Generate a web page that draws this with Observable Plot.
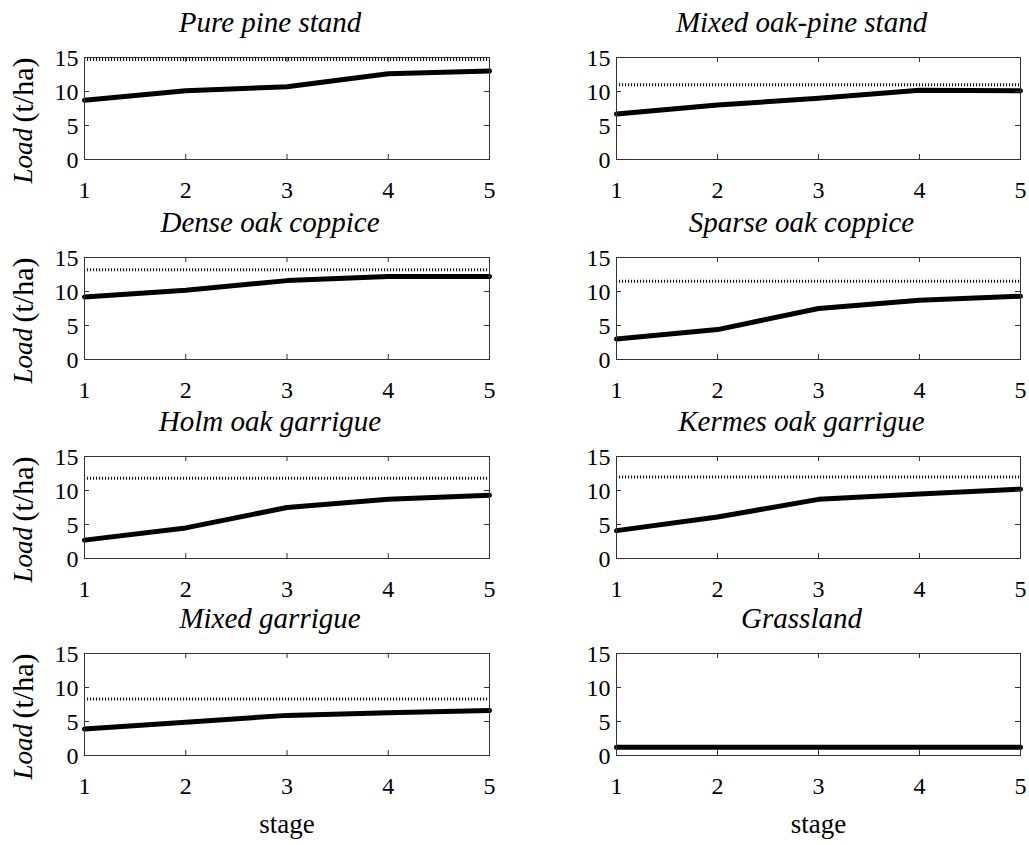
<!DOCTYPE html>
<html>
<head>
<meta charset="utf-8">
<script src="https://cdn.jsdelivr.net/npm/d3@7"></script>
<script src="https://cdn.jsdelivr.net/npm/@observablehq/plot@0.6"></script>
<style>
  html, body { margin: 0; padding: 0; background: #fff; }
  #chart { position: relative; width: 1029px; height: 845px; overflow: hidden; }
  #chart svg { position: absolute; overflow: visible; }
</style>
</head>
<body>
<div id="chart"></div>
<script>
// ---- data ----
const stages = [1, 2, 3, 4, 5];
const stageTicks = [1, 2, 3, 4, 5];
const loadTicks = [0, 5, 10, 15];

const panelTitles = [
  "Pure pine stand", "Mixed oak-pine stand",
  "Dense oak coppice", "Sparse oak coppice",
  "Holm oak garrigue", "Kermes oak garrigue",
  "Mixed garrigue", "Grassland"
];

const purePine      = [8.7, 10.1, 10.7, 12.6, 13.0];
const mixedOakPine  = [6.7, 8.0, 9.0, 10.2, 10.1];
const denseOak      = [9.2, 10.2, 11.6, 12.2, 12.2];
const sparseOak     = [3.0, 4.4, 7.5, 8.7, 9.3];
const holmOak       = [2.7, 4.5, 7.5, 8.7, 9.3];
const kermesOak     = [4.1, 6.1, 8.7, 9.5, 10.2];
const mixedGarrigue = [3.9, 4.9, 5.9, 6.3, 6.6];
const grassland     = [1.2, 1.2, 1.2, 1.2, 1.2];

// dotted reference level per panel (null = none)
const refLevels = [14.7, 11.0, 13.2, 11.5, 11.8, 12.0, 8.3, null];

const seriesList = [purePine, mixedOakPine, denseOak, sparseOak, holmOak, kermesOak, mixedGarrigue, grassland];

// ---- layout ----
const rowTops = [57, 257, 456, 653];
const plotH = 102;
const serif = "Liberation Serif, Times New Roman, serif";

const container = document.getElementById("chart");

seriesList.forEach((series, i) => {
  const r = Math.floor(i / 2), c = i % 2;
  const left = c === 0 ? 0 : 514;
  const width = c === 0 ? 514 : 515;
  const marginLeft = c === 0 ? 84 : 102;
  const marginRight = c === 0 ? 25 : 9;
  const marginTop = 57;
  const marginBottom = r < 3 ? 41 : 89;
  const plotW = width - marginLeft - marginRight;
  const data = stages.map((s, k) => ({stage: s, load: series[k]}));
  const ref = refLevels[i];

  const marks = [
    Plot.ruleY(ref == null ? [] : [ref], {x1: 1, x2: 5, stroke: "#111", strokeWidth: 3, strokeDasharray: "1.1,1.9"}),
    Plot.line(data, {x: "stage", y: "load", stroke: "#000", strokeWidth: 5}),
    Plot.frame({stroke: "#333", strokeWidth: 1}),
    // inward ticks (MATLAB style), all four sides
    Plot.ruleX(stageTicks, {insetTop: plotH - 5, stroke: "#333"}),
    Plot.ruleX(stageTicks, {insetBottom: plotH - 5, stroke: "#333"}),
    Plot.ruleY(loadTicks, {insetRight: plotW - 5, stroke: "#333"}),
    Plot.ruleY(loadTicks, {insetLeft: plotW - 5, stroke: "#333"}),
    Plot.axisX(stageTicks, {tickSize: 0, tickPadding: 21, fontSize: 24, fontFamily: serif, label: null, tickFormat: d => String(d)}),
    Plot.axisY(loadTicks, {tickSize: 0, tickPadding: 6, fontSize: 24, fontFamily: serif, label: null, tickFormat: d => String(d), dy: 1}),
    Plot.text([panelTitles[i]], {frameAnchor: "top", lineAnchor: "middle", dx: -17, dy: -35, fontSize: 29, fontFamily: serif, fontStyle: "italic"})
  ];

  if (c === 0) {
    marks.push(
      Plot.text(["Load"], {frameAnchor: "bottom-left", lineAnchor: "middle", rotate: -90, textAnchor: "start", fontStyle: "italic", fontFamily: serif, fontSize: 27, dx: -61, dy: 24}),
      Plot.text(["(t/ha)"], {frameAnchor: "bottom-left", lineAnchor: "middle", rotate: -90, textAnchor: "start", fontFamily: serif, fontSize: 30, dx: -61, dy: -37})
    );
  }
  if (r === 3) {
    marks.push(Plot.text(["stage"], {frameAnchor: "bottom", lineAnchor: "middle", dy: 69, fontSize: 27, fontFamily: serif}));
  }

  const svg = Plot.plot({
    width,
    height: marginTop + plotH + marginBottom,
    marginLeft, marginRight, marginTop, marginBottom,
    x: {domain: [1, 5], label: null},
    y: {domain: [0, 15], label: null},
    style: {fontFamily: serif, fontSize: "24px", color: "#000", background: "transparent", overflow: "visible"},
    marks
  });
  svg.style.left = left + "px";
  svg.style.top = (rowTops[r] - marginTop) + "px";
  container.appendChild(svg);
});
</script>
</body>
</html>
